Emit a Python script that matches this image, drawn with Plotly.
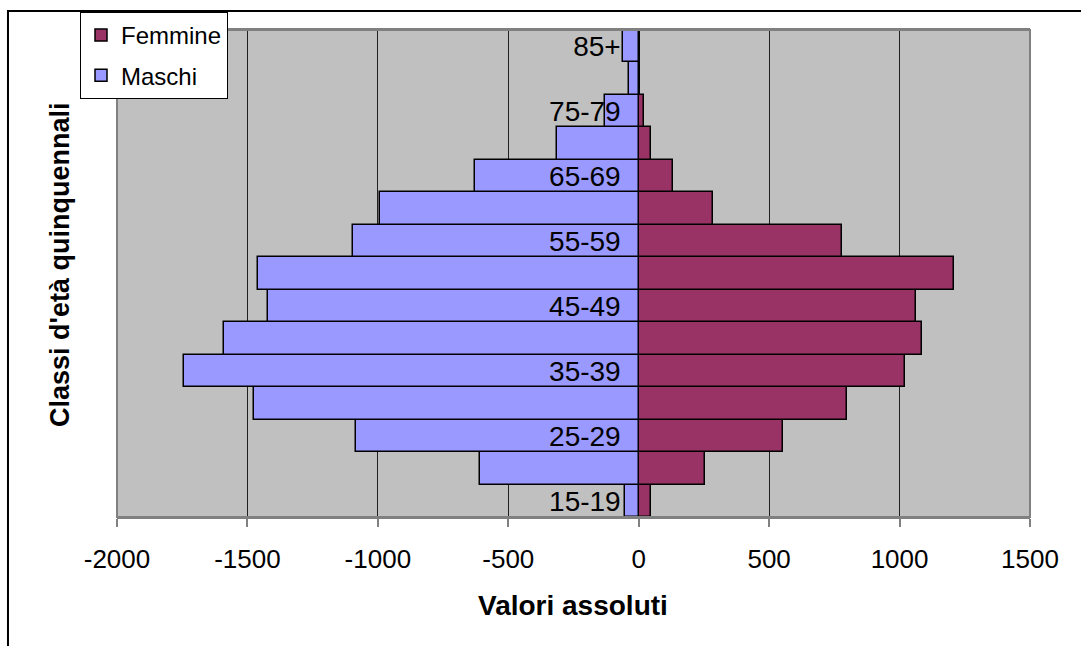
import plotly.graph_objects as go

# ---- data ----
age_classes = ['15-19', '20-24', '25-29', '30-34', '35-39', '40-44', '45-49',
               '50-54', '55-59', '60-64', '65-69', '70-74', '75-79', '80-84', '85+']
maschi = [-52, -610, -1085, -1475, -1744, -1590, -1420, -1460, -1094, -993,
          -627, -314, -130, -38, -60]
femmine = [48, 255, 554, 798, 1019, 1087, 1064, 1209, 781, 285,
           130, 48, 22, 5, 5]
shown_age_ticks = age_classes[::2]
x_ticks = [-2000, -1500, -1000, -500, 0, 500, 1000, 1500]

x_range = [-2000, 1500]
FONT = "Liberation Sans, Arial, sans-serif"

fig = go.Figure()
fig.add_trace(go.Bar(
    y=age_classes, x=femmine, orientation='h', name='Femmine',
    marker=dict(color='#993366', line=dict(color='black', width=1.5)),
    legendgroup='f'))
fig.add_trace(go.Bar(
    y=age_classes, x=maschi, orientation='h', name='Maschi',
    marker=dict(color='#9999FF', line=dict(color='black', width=1.5)),
    legendgroup='m'))

zero_pos = (0 - x_range[0]) / (x_range[1] - x_range[0])

fig.update_layout(
    width=1081, height=646,
    margin=dict(l=117, r=51, t=30, b=129),
    paper_bgcolor='white', plot_bgcolor='#C0C0C0',
    barmode='overlay', bargap=0,
    font=dict(family=FONT, color='black', size=26),
    showlegend=True,
    legend=dict(x=(80 - 117) / 913, y=1.037, xanchor='left', yanchor='top',
                bgcolor='white', bordercolor='black', borderwidth=1,
                font=dict(size=24, family=FONT), tracegroupgap=6,
                itemwidth=30),
    xaxis=dict(range=x_range, tickvals=x_ticks, ticktext=[str(v) for v in x_ticks],
               showgrid=True, gridcolor='#202020', gridwidth=1,
               zeroline=False, showline=True, linecolor='#808080', linewidth=2,
               mirror=True,
               ticks='outside', ticklen=8, tickcolor='#808080', tickwidth=1.5,
               ticklabelstandoff=10,
               tickfont=dict(size=26, family=FONT), fixedrange=True),
    yaxis=dict(type='category', categoryorder='array', categoryarray=age_classes,
               range=[-0.5, len(age_classes) - 0.5],
               anchor='free', position=zero_pos,
               tickvals=shown_age_ticks, ticktext=shown_age_ticks,
               ticks='', showgrid=False, zeroline=False, showline=False,
               ticklabelstandoff=18,
               tickfont=dict(size=28, family=FONT), fixedrange=True),
)

# plot-area border (gray) and outer frame (black)
fig.add_shape(type='rect', xref='paper', yref='paper', x0=0, x1=1, y0=0, y1=1,
              line=dict(color='#808080', width=2), layer='above')
fig.add_shape(type='rect', xref='paper', yref='paper', x0=-0.1194, x1=1.2,
              y0=-0.6, y1=1.039, line=dict(color='black', width=2), layer='above')

fig.add_annotation(text='<b>Valori assoluti</b>', xref='paper', yref='paper',
                   x=(573 - 117) / 913, y=(517 - 605) / 487,
                   xanchor='center', yanchor='middle', showarrow=False,
                   font=dict(size=28, family=FONT))
fig.add_annotation(text="<b>Classi d'età quinquennali</b>", xref='paper', yref='paper',
                   x=(60 - 117) / 913, y=(517 - 265) / 487, textangle=-90,
                   xanchor='center', yanchor='middle', showarrow=False,
                   font=dict(size=27, family=FONT))

fig.write_html("out.html")
